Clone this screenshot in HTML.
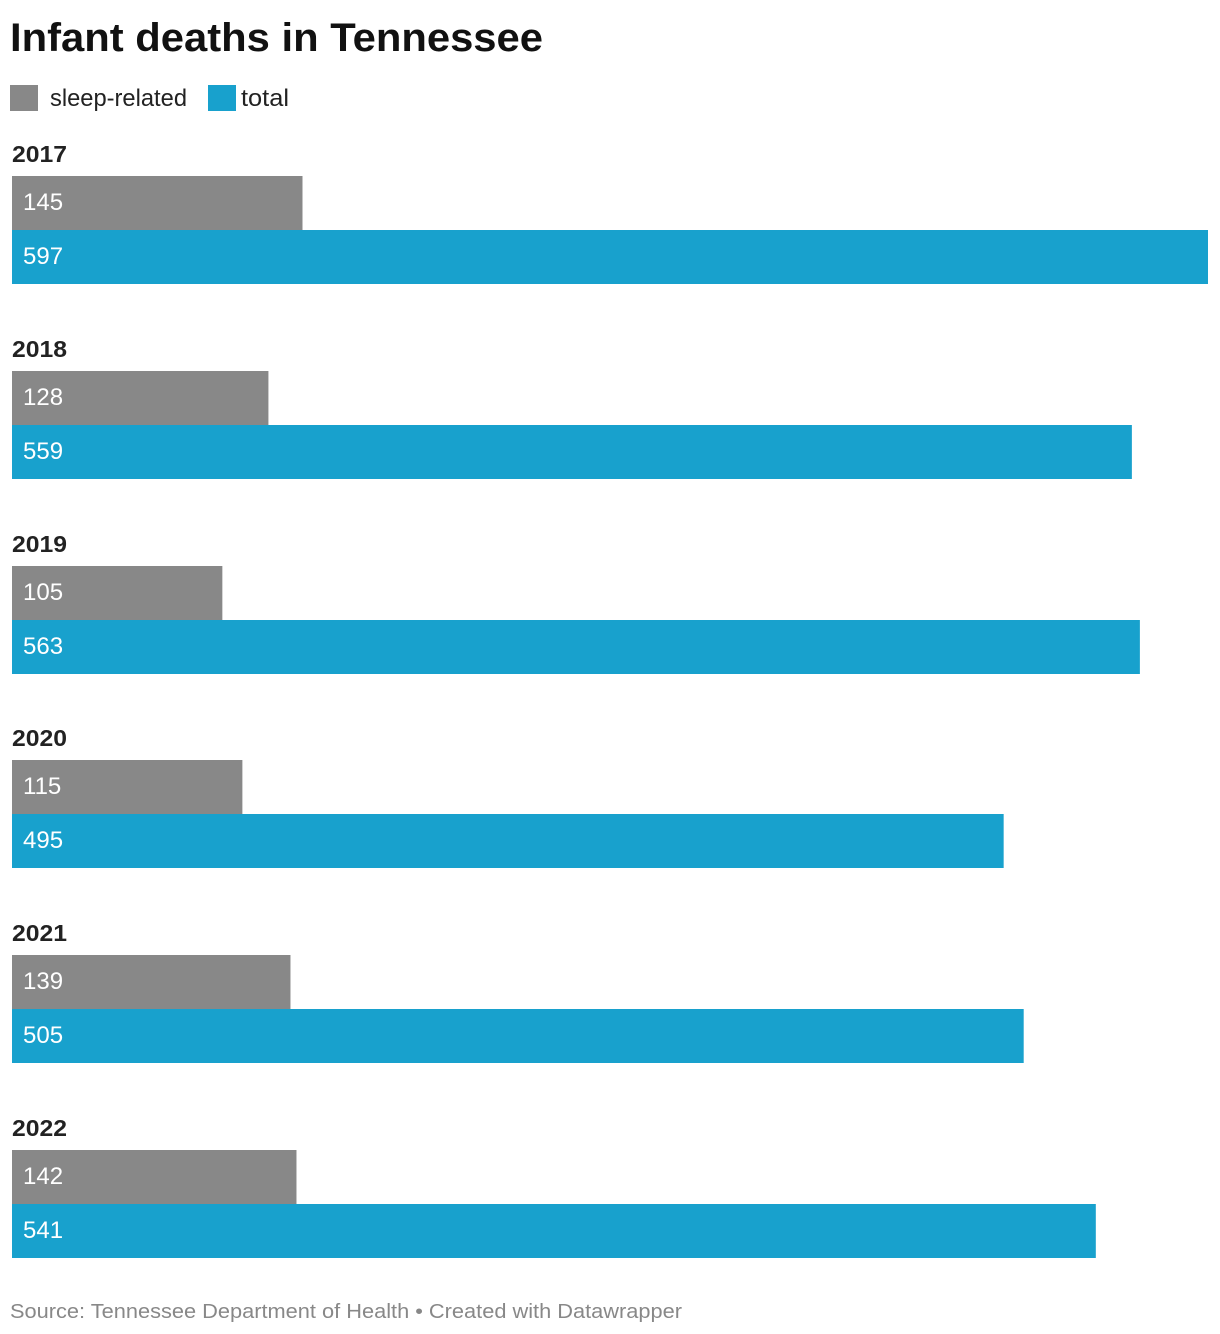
<!DOCTYPE html>
<html><head><meta charset="utf-8"><style>
body{margin:0;background:#fff;font-family:"Liberation Sans",Arial,sans-serif;}
#wrap{position:relative;width:1220px;height:1334px;overflow:hidden;}
</style></head><body>
<div id="wrap">
<svg id="chart" width="1220" height="1334">
<text x="10" y="51" font-size="40" font-weight="bold" fill="#111" textLength="533" lengthAdjust="spacingAndGlyphs">Infant deaths in Tennessee</text>
<g>
<rect x="10" y="85" width="28" height="26" fill="#888888"/>
<text x="50" y="106" font-size="24" fill="#222" textLength="137" lengthAdjust="spacingAndGlyphs">sleep-related</text>
<rect x="208" y="85" width="28" height="26" fill="#18a1cd"/>
<text x="241" y="106" font-size="24" fill="#222" textLength="48" lengthAdjust="spacingAndGlyphs">total</text>
</g>
<g id="bars"></g>
<text x="10" y="1318" font-size="20" fill="#888" textLength="672" lengthAdjust="spacingAndGlyphs">Source: Tennessee Department of Health • Created with Datawrapper</text>
</svg>
</div>
<script>
const years=["2017","2018","2019","2020","2021","2022"];
const sleepRelated=[145,128,105,115,139,142];
const total=[597,559,563,495,505,541];
const x0=12, xMax=1208, dMax=597;
function xs(v){return (v/dMax)*(xMax-x0);}
function groupTop(i){return Math.round(176+i*194.8);}
const g=document.getElementById('bars');
const ns="http://www.w3.org/2000/svg";
years.forEach((y,i)=>{
  const top=groupTop(i);
  const lab=document.createElementNS(ns,'text');
  lab.setAttribute('x',12);lab.setAttribute('y',top-14);
  lab.setAttribute('font-size',23);lab.setAttribute('font-weight','bold');lab.setAttribute('fill','#222');
  lab.setAttribute('textLength',55);lab.setAttribute('lengthAdjust','spacingAndGlyphs');
  lab.textContent=y;
  
  
  g.appendChild(lab);
  [[sleepRelated,'#888888','sleep'],[total,'#18a1cd','total']].forEach((s,k)=>{
    const r=document.createElementNS(ns,'rect');
    r.setAttribute('x',x0);r.setAttribute('y',top+k*54);
    r.setAttribute('width',xs(s[0][i]));r.setAttribute('height',54);
    r.setAttribute('fill',s[1]);
    
    
    g.appendChild(r);
    const t=document.createElementNS(ns,'text');
    t.setAttribute('x',23);t.setAttribute('y',top+k*54+34);
    t.setAttribute('font-size',24);t.setAttribute('fill','#fff');
    t.textContent=s[0][i];
    
    
    g.appendChild(t);
  });
});
</script>
</body></html>
